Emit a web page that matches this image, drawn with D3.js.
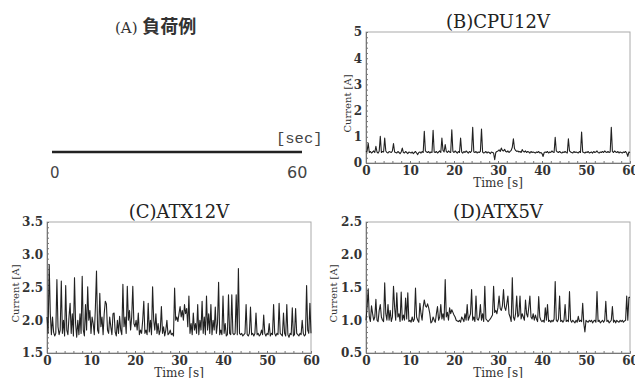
<!DOCTYPE html>
<html>
<head>
<meta charset="utf-8">
<script src="https://cdn.jsdelivr.net/npm/d3@7"></script>
<style>
body { margin: 0; background: #fff; }
</style>
</head>
<body>
<div id="rootDiv"></div>
<script>
const width = 635
const height = 378
const sampleStep = 0.25   // seconds between samples

const timeTicks = [0, 10, 20, 30, 40, 50, 60]
const cpu12vTicks = [0, 1, 2, 3, 4, 5]
const atx12vTicks = [1.5, 2.0, 2.5, 3.0, 3.5]
const atx5vTicks = [0.5, 1.0, 1.5, 2.0, 2.5]

const panelTitles = ["(B)CPU12V", "(C)ATX12V", "(D)ATX5V"]

// current [A], one value every 0.25 s, 0..60 s
const cpu12v = [
    0.42, 0.45, 0.76, 0.40, 0.44, 0.38, 0.42, 0.46, 0.40, 0.64, 0.42, 0.38,
    0.45, 1.02, 0.40, 0.44, 0.42, 0.95, 0.46, 0.40, 0.38, 0.44, 0.42, 0.40,
    0.46, 0.74, 0.42, 0.40, 0.38, 0.44, 0.40, 0.36, 0.42, 0.57, 0.40, 0.38,
    0.44, 0.40, 0.36, 0.42, 0.40, 0.38, 0.42, 0.36, 0.40, 0.44, 0.38, 0.32,
    0.40, 0.42, 0.38, 0.44, 0.40, 1.21, 0.46, 0.42, 0.40, 0.44, 0.38, 0.42,
    0.40, 1.25, 0.42, 0.40, 0.44, 0.38, 0.42, 0.46, 0.40, 0.95, 0.48, 0.42,
    0.70, 0.44, 0.40, 0.46, 0.42, 0.40, 1.27, 0.44, 0.40, 0.46, 0.42, 0.38,
    0.44, 0.40, 0.95, 0.42, 0.38, 0.44, 0.40, 0.46, 0.42, 0.38, 0.44, 0.40,
    0.46, 1.36, 0.42, 0.40, 0.44, 0.38, 0.42, 0.40, 0.44, 1.30, 0.42, 0.38,
    0.40, 0.44, 0.38, 0.42, 0.40, 0.36, 0.42, 0.40, 0.38, 0.13, 0.40, 0.44,
    0.46, 0.50, 0.44, 0.57, 0.48, 0.46, 0.52, 0.44, 0.42, 0.46, 0.40, 0.44,
    0.48, 0.60, 0.92, 0.55, 0.48, 0.44, 0.46, 0.42, 0.44, 0.40, 0.51, 0.44,
    0.42, 0.46, 0.40, 0.44, 0.42, 0.38, 0.44, 0.40, 0.42, 0.40, 0.38, 0.42,
    0.40, 0.44, 0.38, 0.40, 0.36, 0.25, 0.40, 0.42, 0.40, 0.44, 0.38, 0.42,
    0.40, 0.46, 0.42, 0.40, 0.98, 0.46, 0.42, 0.40, 0.44, 0.40, 0.38, 0.42,
    0.40, 0.44, 0.40, 0.38, 0.92, 0.46, 0.42, 0.40, 0.38, 0.44, 0.40, 0.42,
    0.40, 0.38, 0.44, 0.40, 1.18, 0.42, 0.40, 0.38, 0.42, 0.40, 0.44, 0.38,
    0.40, 0.42, 0.38, 0.44, 0.40, 0.42, 0.46, 0.40, 0.38, 0.42, 0.40, 0.44,
    0.40, 0.46, 0.42, 0.40, 0.44, 0.40, 0.42, 1.36, 0.44, 0.40, 0.46, 0.42,
    0.40, 0.44, 0.38, 0.42, 0.40, 0.38, 0.42, 0.40, 0.44, 0.38, 0.25, 0.42,
    0.40
]

const atx12v = [
    2.05, 1.80, 2.85, 2.10, 1.78, 2.05, 1.82, 1.76, 1.80, 2.62, 1.90, 1.78,
    1.85, 2.60, 1.80, 2.00, 1.76, 2.53, 1.85, 1.78, 2.05, 2.26, 1.80, 2.10,
    1.76, 2.65, 1.95, 1.74, 2.00, 1.78, 2.10, 1.80, 2.67, 1.85, 1.76, 2.24,
    1.85, 2.51, 2.00, 2.15, 1.80, 2.05, 1.95, 1.78, 2.20, 2.75, 1.85, 1.80,
    2.41, 1.90, 2.05, 1.78, 2.10, 2.29, 2.25, 1.85, 1.80, 2.05, 1.90, 1.78,
    2.10, 2.11, 1.82, 1.76, 2.00, 1.80, 2.06, 1.85, 1.78, 2.55, 1.90, 2.05,
    1.80, 2.52, 2.00, 2.15, 1.85, 2.05, 2.52, 1.95, 1.90, 2.00, 1.85, 2.11,
    1.78, 1.85, 1.80, 2.00, 2.29, 1.80, 1.85, 1.78, 2.26, 1.82, 2.00, 1.78,
    2.51, 2.00, 1.85, 2.10, 1.80, 1.95, 1.78, 1.85, 2.21, 1.80, 1.90, 1.76,
    1.85, 2.00, 1.78, 1.80, 1.85, 1.78, 1.80, 1.76, 2.49, 2.00, 2.05, 1.98,
    2.10, 2.21, 2.05, 2.15, 2.00, 2.24, 2.10, 2.18, 1.90, 2.37, 1.80, 1.95,
    1.78, 2.11, 1.85, 1.95, 1.80, 2.24, 1.78, 2.00, 1.85, 2.29, 1.80, 2.05,
    1.78, 2.37, 1.85, 2.10, 1.80, 2.24, 1.78, 2.00, 1.85, 2.20, 1.80, 1.95,
    2.58, 1.78, 1.85, 1.78, 2.37, 1.80, 1.95, 1.76, 1.78, 2.39, 1.80, 1.78,
    2.39, 1.80, 1.78, 1.80, 2.39, 1.78, 2.79, 1.80, 1.78, 1.80, 1.76, 1.78,
    1.80, 2.24, 1.78, 1.76, 1.80, 2.20, 1.78, 1.80, 1.76, 1.80, 2.11, 1.78,
    1.80, 1.76, 1.78, 1.85, 1.78, 2.08, 1.80, 1.76, 1.80, 1.78, 1.95, 1.76,
    1.80, 1.78, 2.24, 1.80, 1.76, 1.80, 1.78, 2.26, 1.80, 1.78, 1.76, 2.11,
    1.80, 1.76, 2.24, 1.78, 1.74, 1.80, 1.78, 2.19, 1.76, 1.78, 2.18, 1.80,
    1.78, 1.76, 1.80, 1.78, 2.00, 1.80, 1.76, 1.78, 2.53, 1.85, 1.80, 2.26,
    1.80
]

const atx5v = [
    1.00, 1.20, 1.48, 1.05, 0.98, 1.22, 1.10, 1.00, 1.05, 1.32, 1.00, 0.98,
    1.15, 1.24, 1.05, 1.00, 0.98, 1.57, 1.10, 1.00, 1.24, 1.00, 1.15, 0.98,
    1.05, 1.52, 1.20, 1.00, 1.42, 1.05, 1.10, 0.98, 1.43, 1.00, 1.08, 1.00,
    1.34, 1.02, 1.42, 0.98, 1.00, 0.97, 1.05, 0.98, 1.02, 1.49, 1.05, 1.00,
    0.97, 1.26, 1.10, 1.00, 1.20, 1.31, 1.22, 1.20, 1.25, 1.19, 1.10, 0.96,
    0.98, 1.05, 1.00, 0.97, 1.10, 1.21, 1.00, 1.05, 1.24, 1.02, 1.10, 1.00,
    1.62, 1.05, 1.12, 1.00, 1.19, 1.10, 1.16, 1.12, 1.08, 1.05, 1.00, 0.99,
    0.98, 1.00, 0.97, 1.05, 1.02, 0.98, 1.10, 1.00, 1.24, 1.00, 1.05, 1.10,
    1.47, 1.00, 1.05, 0.98, 1.37, 1.02, 1.00, 1.05, 1.24, 1.00, 1.10, 0.98,
    1.52, 1.02, 1.00, 0.98, 1.00, 1.02, 1.05, 1.08, 1.52, 1.12, 1.15, 1.10,
    1.20, 1.37, 1.18, 1.15, 1.22, 1.47, 1.20, 1.15, 1.25, 1.37, 1.10, 1.05,
    0.98, 1.65, 1.05, 1.00, 1.10, 1.37, 1.05, 1.08, 1.37, 1.02, 1.10, 1.05,
    1.00, 1.31, 1.10, 1.05, 1.20, 1.37, 1.05, 1.02, 1.10, 1.00, 1.08, 1.02,
    0.98, 1.36, 1.05, 1.00, 0.98, 1.00, 0.97, 1.19, 1.00, 1.24, 0.98, 1.00,
    0.97, 1.00, 0.98, 1.02, 1.59, 1.00, 0.98, 1.02, 1.37, 0.98, 1.00, 0.97,
    1.00, 1.24, 0.98, 1.00, 0.98, 1.44, 1.00, 0.97, 1.00, 0.98, 0.96, 1.00,
    0.97, 1.06, 0.98, 1.00, 0.98, 1.26, 0.95, 0.82, 1.00, 0.98, 0.97, 1.00,
    0.98, 1.00, 0.96, 0.99, 1.00, 0.97, 1.44, 0.98, 1.00, 0.96, 0.98, 1.00,
    0.97, 1.00, 1.29, 0.98, 1.00, 0.96, 0.98, 1.00, 1.21, 0.97, 1.00, 0.96,
    1.00, 0.98, 0.97, 1.00, 0.98, 1.00, 0.97, 0.99, 1.00, 1.37, 1.00, 1.35,
    1.35
]

const serif = "'DejaVu Serif', serif"

function drawPanel(svg, p) {
    const x = d3.scaleLinear().domain([0, 60]).range([p.left, p.right])
    const y = d3.scaleLinear().domain(p.domain).range([p.bottom, p.top])
    const g = svg.append("g")

    // frame
    g.append("rect")
        .attr("x", p.left)
        .attr("y", p.top)
        .attr("width", p.right - p.left)
        .attr("height", p.bottom - p.top)
        .attr("fill", "none")
        .attr("stroke", "#aaa")

    // small inward ticks along left and bottom
    const ySpan = p.domain[1] - p.domain[0]
    const yMinor = d3.range(p.domain[0], p.domain[1] + 1e-9, ySpan / 25)
    g.append("g")
        .attr("transform", `translate(${p.left},0)`)
        .call(d3.axisLeft(y).tickValues(yMinor).tickSize(-2).tickFormat(""))
        .call(a => a.selectAll("line,path").attr("stroke", "#777"))

    g.append("g")
        .attr("transform", `translate(0,${p.bottom})`)
        .call(d3.axisBottom(x).tickValues(d3.range(0, 60.01, 2)).tickSize(-2).tickFormat(""))
        .call(a => a.selectAll("line,path").attr("stroke", "#777"))

    // tick labels
    g.append("g")
        .attr("transform", `translate(${p.left},0)`)
        .call(d3.axisLeft(y).tickValues(p.ticks).tickSize(0).tickPadding(4).tickFormat(p.fmt))
        .call(a => a.select(".domain").remove())
        .call(a => a.selectAll("text")
            .attr("font-family", serif)
            .attr("font-size", 12)
            .attr("font-weight", "bold")
            .attr("fill", "#333"))

    g.append("g")
        .attr("transform", `translate(0,${p.bottom})`)
        .call(d3.axisBottom(x).tickValues(timeTicks).tickSize(0).tickPadding(3))
        .call(a => a.select(".domain").remove())
        .call(a => a.selectAll("text")
            .attr("font-family", serif)
            .attr("font-size", 12)
            .attr("font-weight", "bold")
            .attr("fill", "#333"))

    // the trace
    const line = d3.line()
        .x((d, i) => x(i * sampleStep))
        .y(d => y(d))

    g.append("path")
        .attr("d", line(p.values))
        .attr("fill", "none")
        .attr("stroke", "#222")
        .attr("stroke-width", 1.1)
        .attr("stroke-linejoin", "round")

    g.append("text")
        .attr("x", (p.left + p.right) / 2)
        .attr("y", p.top - 4)
        .attr("text-anchor", "middle")
        .attr("font-family", serif)
        .attr("font-size", 18)
        .attr("fill", "#222")
        .text(p.title)

    g.append("text")
        .attr("x", (p.left + p.right) / 2)
        .attr("y", p.bottom + 24)
        .attr("text-anchor", "middle")
        .attr("font-family", serif)
        .attr("font-size", 12)
        .attr("fill", "#333")
        .text("Time [s]")

    const cy = (p.top + p.bottom) / 2 + 6
    g.append("text")
        .attr("transform", `translate(${p.left - p.labelGap},${cy}) rotate(-90)`)
        .attr("text-anchor", "middle")
        .attr("dominant-baseline", "middle")
        .attr("font-family", serif)
        .attr("font-size", 10)
        .attr("fill", "#333")
        .text("Current [A]")
}

const svg = d3.select("#rootDiv")
    .append("svg")
    .attr("width", width)
    .attr("height", height)

svg.append("rect").attr("width", width).attr("height", height).attr("fill", "#fff")

// (A) load example sketch
svg.append("text")
    .attr("x", 115)
    .attr("y", 33)
    .attr("fill", "#333")
    .call(t => {
        t.append("tspan").attr("font-family", serif).attr("font-size", 15).text("(A) ")
        t.append("tspan").attr("font-family", "'Noto Sans CJK JP', sans-serif")
            .attr("font-size", 18).attr("font-weight", "bold").text("負荷例")
    })

svg.append("line")
    .attr("x1", 52).attr("x2", 302)
    .attr("y1", 152).attr("y2", 152)
    .attr("stroke", "#222")
    .attr("stroke-width", 2.5)

svg.append("text")
    .attr("x", 276).attr("y", 143)
    .attr("font-family", "'Liberation Mono', monospace")
    .attr("font-size", 15.5)
    .attr("fill", "#444")
    .text("[sec]")

svg.append("text")
    .attr("x", 50).attr("y", 178)
    .attr("font-family", "'DejaVu Sans', sans-serif")
    .attr("font-size", 15)
    .attr("fill", "#444")
    .text("0")

svg.append("text")
    .attr("x", 287).attr("y", 178)
    .attr("font-family", "'DejaVu Sans', sans-serif")
    .attr("font-size", 16)
    .attr("fill", "#444")
    .text("60")

drawPanel(svg, {
    title: panelTitles[0], values: cpu12v, domain: [0, 5], ticks: cpu12vTicks,
    fmt: d3.format("d"), left: 366, right: 630, top: 32, bottom: 163, labelGap: 18
})
drawPanel(svg, {
    title: panelTitles[1], values: atx12v, domain: [1.5, 3.5], ticks: atx12vTicks,
    fmt: d3.format(".1f"), left: 47, right: 311, top: 222, bottom: 353, labelGap: 31
})
drawPanel(svg, {
    title: panelTitles[2], values: atx5v, domain: [0.5, 2.5], ticks: atx5vTicks,
    fmt: d3.format(".1f"), left: 366, right: 630, top: 222, bottom: 353, labelGap: 32
})
</script>
</body>
</html>
